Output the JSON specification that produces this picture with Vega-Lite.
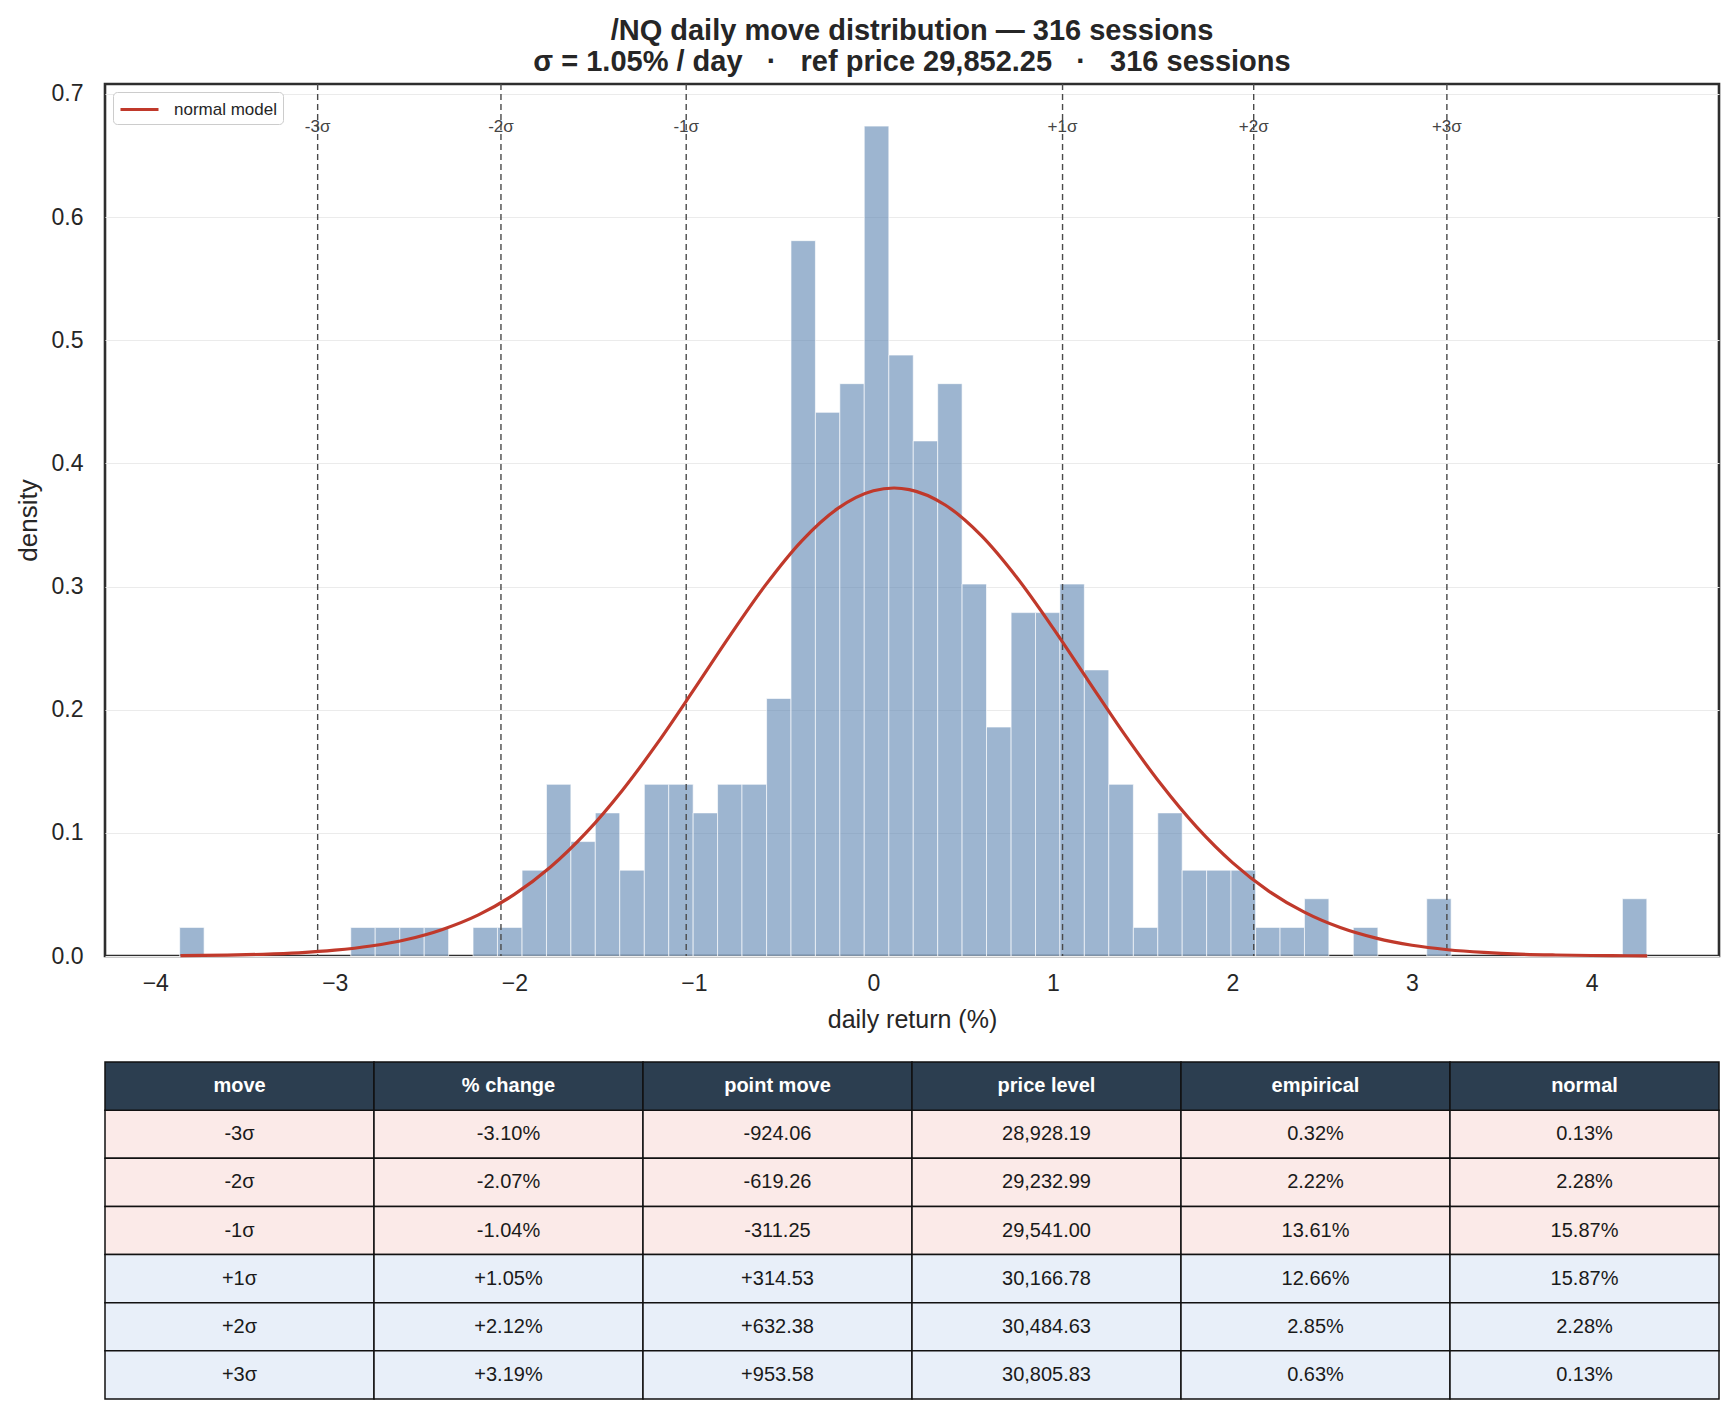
{
  "$schema": "https://vega.github.io/schema/vega-lite/v6.json",
  "background": "white",
  "padding": {"left": 13, "top": 16, "right": 15, "bottom": 15},
  "config": {
    "font": "Liberation Sans",
    "view": {"stroke": null},
    "axis": {"labelColor": "#262626", "titleColor": "#262626", "titleFontWeight": "normal"}
  },
  "title": {
    "text": ["/NQ daily move distribution — 316 sessions", "σ = 1.05% / day \u00a0 · \u00a0 ref price 29,852.25 \u00a0 · \u00a0 316 sessions"],
    "fontSize": 29,
    "fontWeight": "bold",
    "color": "#262626",
    "lineHeight": 31,
    "offset": 5,
    "anchor": "middle",
    "frame": "group"
  },
  "datasets": {
    "bins": [
      {"start": -3.864, "end": -3.728, "density": 0.0232},
      {"start": -2.911, "end": -2.775, "density": 0.0232},
      {"start": -2.775, "end": -2.638, "density": 0.0232},
      {"start": -2.638, "end": -2.502, "density": 0.0232},
      {"start": -2.502, "end": -2.366, "density": 0.0232},
      {"start": -2.230, "end": -2.094, "density": 0.0232},
      {"start": -2.094, "end": -1.957, "density": 0.0232},
      {"start": -1.957, "end": -1.821, "density": 0.0697},
      {"start": -1.821, "end": -1.685, "density": 0.1394},
      {"start": -1.685, "end": -1.549, "density": 0.0929},
      {"start": -1.549, "end": -1.413, "density": 0.1162},
      {"start": -1.413, "end": -1.276, "density": 0.0697},
      {"start": -1.276, "end": -1.140, "density": 0.1394},
      {"start": -1.140, "end": -1.004, "density": 0.1394},
      {"start": -1.004, "end": -0.868, "density": 0.1162},
      {"start": -0.868, "end": -0.732, "density": 0.1394},
      {"start": -0.732, "end": -0.595, "density": 0.1394},
      {"start": -0.595, "end": -0.459, "density": 0.2091},
      {"start": -0.459, "end": -0.323, "density": 0.5808},
      {"start": -0.323, "end": -0.187, "density": 0.4414},
      {"start": -0.187, "end": -0.051, "density": 0.4647},
      {"start": -0.051, "end": 0.086, "density": 0.6738},
      {"start": 0.086, "end": 0.222, "density": 0.4879},
      {"start": 0.222, "end": 0.358, "density": 0.4182},
      {"start": 0.358, "end": 0.494, "density": 0.4647},
      {"start": 0.494, "end": 0.630, "density": 0.3020},
      {"start": 0.630, "end": 0.767, "density": 0.1859},
      {"start": 0.767, "end": 0.903, "density": 0.2788},
      {"start": 0.903, "end": 1.039, "density": 0.2788},
      {"start": 1.039, "end": 1.175, "density": 0.3020},
      {"start": 1.175, "end": 1.311, "density": 0.2323},
      {"start": 1.311, "end": 1.448, "density": 0.1394},
      {"start": 1.448, "end": 1.584, "density": 0.0232},
      {"start": 1.584, "end": 1.720, "density": 0.1162},
      {"start": 1.720, "end": 1.856, "density": 0.0697},
      {"start": 1.856, "end": 1.992, "density": 0.0697},
      {"start": 1.992, "end": 2.129, "density": 0.0697},
      {"start": 2.129, "end": 2.265, "density": 0.0232},
      {"start": 2.265, "end": 2.401, "density": 0.0232},
      {"start": 2.401, "end": 2.537, "density": 0.0465},
      {"start": 2.673, "end": 2.810, "density": 0.0232},
      {"start": 3.082, "end": 3.218, "density": 0.0465},
      {"start": 4.172, "end": 4.308, "density": 0.0465}
    ],
    "curve": [
      {"x": -3.86, "pdf": 0.0003},
      {"x": -3.6, "pdf": 0.0007},
      {"x": -3.4, "pdf": 0.0014},
      {"x": -3.2, "pdf": 0.0026},
      {"x": -3.0, "pdf": 0.0047},
      {"x": -2.8, "pdf": 0.0081},
      {"x": -2.6, "pdf": 0.0134},
      {"x": -2.4, "pdf": 0.0216},
      {"x": -2.2, "pdf": 0.0334},
      {"x": -2.0, "pdf": 0.0500},
      {"x": -1.8, "pdf": 0.0720},
      {"x": -1.6, "pdf": 0.1001},
      {"x": -1.4, "pdf": 0.1342},
      {"x": -1.2, "pdf": 0.1734},
      {"x": -1.0, "pdf": 0.2162},
      {"x": -0.8, "pdf": 0.2599},
      {"x": -0.6, "pdf": 0.3013},
      {"x": -0.4, "pdf": 0.3369},
      {"x": -0.2, "pdf": 0.3632},
      {"x": 0.0, "pdf": 0.3777},
      {"x": 0.115, "pdf": 0.3800},
      {"x": 0.2, "pdf": 0.3787},
      {"x": 0.4, "pdf": 0.3662},
      {"x": 0.6, "pdf": 0.3415},
      {"x": 0.8, "pdf": 0.3071},
      {"x": 1.0, "pdf": 0.2664},
      {"x": 1.2, "pdf": 0.2228},
      {"x": 1.4, "pdf": 0.1797},
      {"x": 1.6, "pdf": 0.1398},
      {"x": 1.8, "pdf": 0.1048},
      {"x": 2.0, "pdf": 0.0758},
      {"x": 2.2, "pdf": 0.0529},
      {"x": 2.4, "pdf": 0.0356},
      {"x": 2.6, "pdf": 0.0231},
      {"x": 2.8, "pdf": 0.0145},
      {"x": 3.0, "pdf": 0.0087},
      {"x": 3.2, "pdf": 0.0051},
      {"x": 3.4, "pdf": 0.0029},
      {"x": 3.6, "pdf": 0.0015},
      {"x": 3.8, "pdf": 0.0008},
      {"x": 4.0, "pdf": 0.0004},
      {"x": 4.2, "pdf": 0.0002},
      {"x": 4.31, "pdf": 0.0001}
    ],
    "moves": [
      {"move": "-3σ", "pct": -3.0955, "pctText": "-3.10%", "points": "-924.06", "price": "28,928.19", "empirical": "0.32%", "normal": "0.13%", "side": "neg"},
      {"move": "-2σ", "pct": -2.0745, "pctText": "-2.07%", "points": "-619.26", "price": "29,232.99", "empirical": "2.22%", "normal": "2.28%", "side": "neg"},
      {"move": "-1σ", "pct": -1.0427, "pctText": "-1.04%", "points": "-311.25", "price": "29,541.00", "empirical": "13.61%", "normal": "15.87%", "side": "neg"},
      {"move": "+1σ", "pct": 1.0536, "pctText": "+1.05%", "points": "+314.53", "price": "30,166.78", "empirical": "12.66%", "normal": "15.87%", "side": "pos"},
      {"move": "+2σ", "pct": 2.1183, "pctText": "+2.12%", "points": "+632.38", "price": "30,484.63", "empirical": "2.85%", "normal": "2.28%", "side": "pos"},
      {"move": "+3σ", "pct": 3.1943, "pctText": "+3.19%", "points": "+953.58", "price": "30,805.83", "empirical": "0.63%", "normal": "0.13%", "side": "pos"}
    ],
    "header": [
      {"column": "move", "label": "move"},
      {"column": "pctText", "label": "% change"},
      {"column": "points", "label": "point move"},
      {"column": "price", "label": "price level"},
      {"column": "empirical", "label": "empirical"},
      {"column": "normal", "label": "normal"}
    ]
  },
  "bounds": "flush",
  "spacing": 106,
  "resolve": {"scale": {"color": "independent", "fill": "independent"}, "legend": {"color": "independent", "fill": "independent"}},
  "vconcat": [
    {
      "width": 1614,
      "height": 872,
      "view": {"stroke": "#2e2e2e", "strokeWidth": 2.6},
      "layer": [
        {
          "data": {"name": "bins"},
          "mark": {"type": "rect", "fill": "#5b84b1", "fillOpacity": 0.6, "stroke": "#ffffff", "strokeWidth": 0.8, "strokeOpacity": 0.8},
          "encoding": {
            "x": {
              "field": "start", "type": "quantitative",
              "scale": {"domain": [-4.28, 4.71], "nice": false, "zero": false},
              "axis": {"title": "daily return (%)", "values": [-4, -3, -2, -1, 0, 1, 2, 3, 4], "format": "d", "grid": false, "ticks": false, "domain": false, "labelFontSize": 23, "labelPadding": 16, "titleFontSize": 25, "titlePadding": 12}
            },
            "x2": {"field": "end"},
            "y": {
              "field": "density", "type": "quantitative",
              "scale": {"domain": [0, 0.708], "nice": false},
              "axis": {"title": "density", "values": [0, 0.1, 0.2, 0.3, 0.4, 0.5, 0.6, 0.7], "format": ".1f", "grid": true, "gridColor": "#ebebeb", "gridWidth": 1.2, "ticks": false, "domain": false, "labelFontSize": 23, "labelPadding": 22, "titleFontSize": 26, "titlePadding": 10}
            }
          }
        },
        {
          "data": {"name": "moves"},
          "mark": {"type": "rule", "color": "#4a4a4a", "strokeDash": [6, 4], "strokeWidth": 1.4},
          "encoding": {"x": {"field": "pct", "type": "quantitative"}}
        },
        {
          "data": {"name": "moves"},
          "mark": {"type": "text", "fontSize": 17, "color": "#444444", "align": "center", "baseline": "middle"},
          "encoding": {
            "x": {"field": "pct", "type": "quantitative"},
            "y": {"datum": 0.673, "type": "quantitative"},
            "text": {"field": "move"}
          }
        },
        {
          "data": {"name": "curve"},
          "mark": {"type": "line", "strokeWidth": 3.2, "interpolate": "monotone"},
          "encoding": {
            "x": {"field": "x", "type": "quantitative"},
            "y": {"field": "pdf", "type": "quantitative"},
            "color": {
              "datum": "normal model", "type": "nominal",
              "scale": {"range": ["#c0392b"]},
              "legend": {"orient": "top-left", "title": null, "offset": 8, "symbolType": "M-1,0H2.8", "symbolStrokeWidth": 3, "symbolSize": 400, "symbolFillColor": "transparent", "labelFontSize": 17, "labelColor": "#262626", "fillColor": "white", "strokeColor": "#cccccc", "cornerRadius": 4, "padding": 6, "labelOffset": 32}
            }
          }
        }
      ]
    },
    {
      "width": 1614,
      "height": 337,
      "view": {"stroke": null},
      "layer": [
        {
          "data": {"name": "moves"},
          "transform": [{"fold": ["move", "pctText", "points", "price", "empirical", "normal"], "as": ["column", "cell"]}],
          "layer": [
            {
              "mark": {"type": "rect", "stroke": "#111111", "strokeWidth": 1.5},
              "encoding": {
                "x": {"field": "column", "type": "ordinal", "scale": {"domain": ["move", "pctText", "points", "price", "empirical", "normal"], "paddingInner": 0, "paddingOuter": 0}, "axis": null},
                "y": {"field": "move", "type": "ordinal", "scale": {"domain": ["hdr", "-3σ", "-2σ", "-1σ", "+1σ", "+2σ", "+3σ"], "paddingInner": 0, "paddingOuter": 0}, "axis": null},
                "fill": {"field": "side", "type": "nominal", "scale": {"domain": ["neg", "pos"], "range": ["#fbeae8", "#e8eff9"]}, "legend": null}
              }
            },
            {
              "mark": {"type": "text", "fontSize": 20, "color": "#1a1a1a", "align": "center", "baseline": "middle"},
              "encoding": {
                "x": {"field": "column", "type": "ordinal"},
                "y": {"field": "move", "type": "ordinal"},
                "text": {"field": "cell"}
              }
            }
          ]
        },
        {
          "data": {"name": "header"},
          "layer": [
            {
              "mark": {"type": "rect", "fill": "#2c3e50", "stroke": "#111111", "strokeWidth": 1.5},
              "encoding": {
                "x": {"field": "column", "type": "ordinal"},
                "y": {"datum": "hdr", "type": "ordinal"}
              }
            },
            {
              "mark": {"type": "text", "fontSize": 20, "fontWeight": "bold", "color": "#ffffff", "align": "center", "baseline": "middle"},
              "encoding": {
                "x": {"field": "column", "type": "ordinal"},
                "y": {"datum": "hdr", "type": "ordinal"},
                "text": {"field": "label"}
              }
            }
          ]
        }
      ]
    }
  ]
}
